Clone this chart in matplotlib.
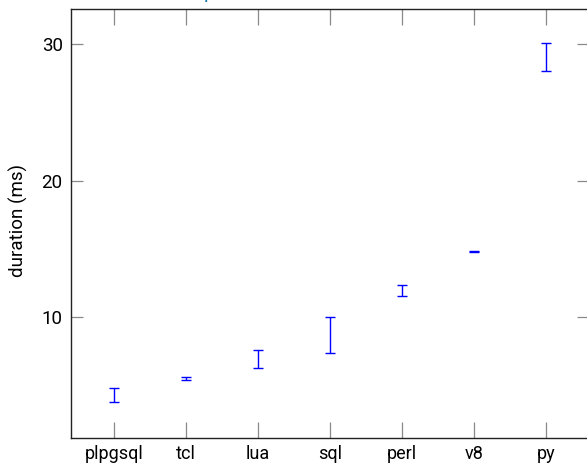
import matplotlib
matplotlib.use("Agg")
import matplotlib.pyplot as plt
import numpy as np

plt.rcParams['font.family'] = ['Roboto', 'DejaVu Sans']

languages = ["plpgsql", "tcl", "lua", "sql", "perl", "v8", "py"]
low_ms = [3.81, 5.42, 6.30, 7.42, 11.57, 14.78, 28.05]
high_ms = [4.84, 5.68, 7.59, 10.07, 12.41, 14.88, 30.07]
y_ticks = [10, 20, 30]

low = np.array(low_ms)
high = np.array(high_ms)
center = (low + high) / 2
err = (high - low) / 2
x = np.arange(len(languages))

fig = plt.figure(figsize=(5.87, 4.66), dpi=100)
ax = fig.add_axes([71 / 587, 28 / 466, 518 / 587, 429 / 466])

ax.errorbar(x, center, yerr=err, fmt='none', ecolor='#0000ff',
            elinewidth=1.0, capsize=3.6, capthick=1.0)

ax.set_xlim(-0.6, 6.6)
ax.set_ylim(1.18, 32.58)
ax.set_xticks(x)
ax.set_xticklabels(languages)
ax.set_yticks(y_ticks)
ax.set_ylabel("duration (ms)", fontsize=13.5)
ax.yaxis.set_label_coords(-0.083, 0.507)

ax.tick_params(axis='x', direction='in', length=11.5, width=0.9, color='#8a8a8a',
               top=True, bottom=True, labelsize=13, pad=5)
ax.tick_params(axis='y', direction='in', length=8.5, width=0.9, color='#8a8a8a',
               left=True, right=True, labelsize=13.5, pad=6)
for s in ax.spines.values():
    s.set_color('#222222')
    s.set_linewidth(1.0)

# title descender peeking in from above the canvas
fig.text(203.5 / 587, 1 + 1.5 / 466, "p", fontsize=14, color='#1a73a8',
         ha='left', va='baseline')

fig.savefig("out.png", dpi=100)
